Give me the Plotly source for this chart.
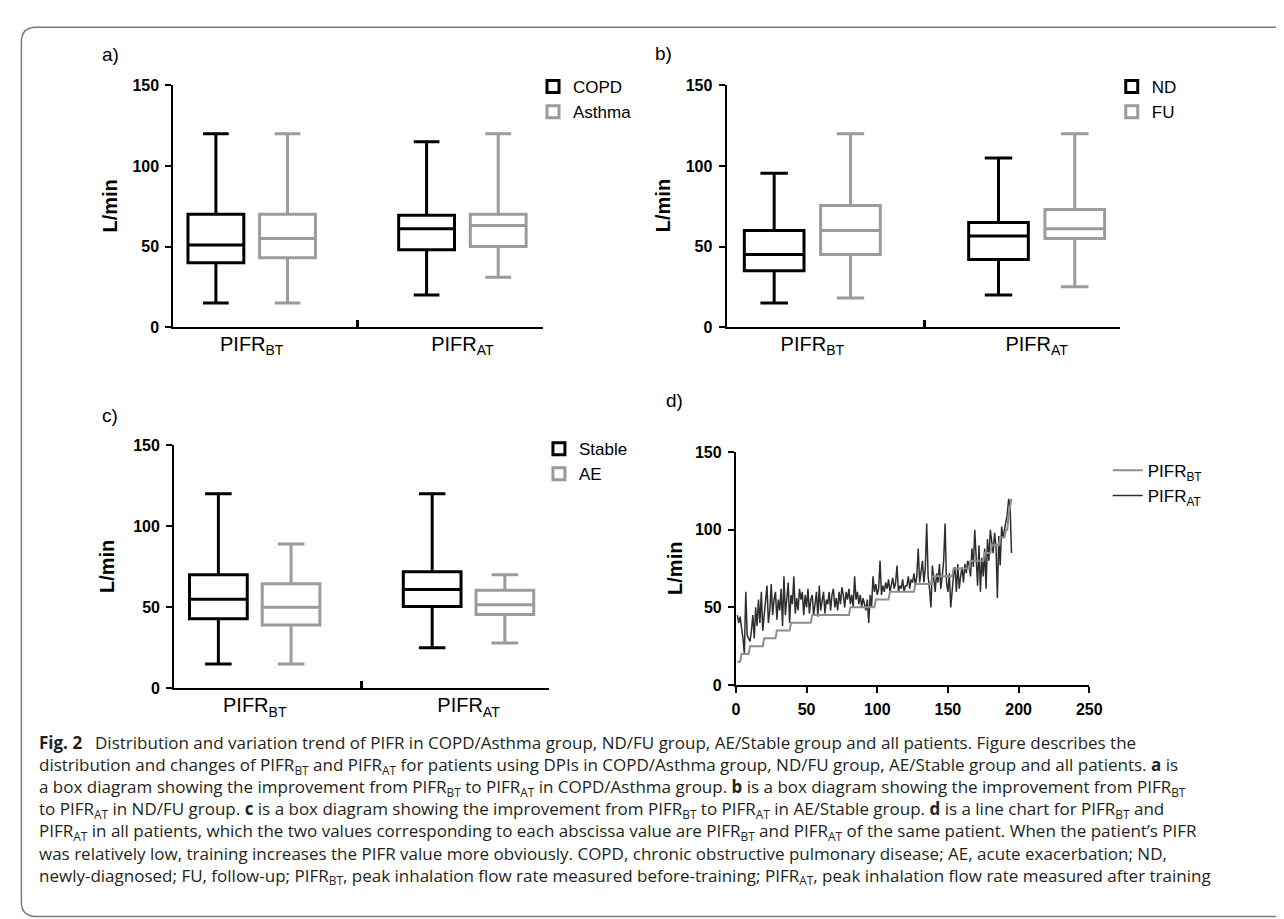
import plotly.graph_objects as go

W, H = 1284, 919

# ---------------- data ----------------
categories = ["PIFR<sub>BT</sub>", "PIFR<sub>AT</sub>"]

# five-number summaries: [min, Q1, median, Q3, max]
copd_bt = [15, 40, 51, 70, 120]
copd_at = [20, 48, 61, 69.5, 115]
asthma_bt = [15, 43, 55, 70, 120]
asthma_at = [31, 50, 63, 70, 120]

nd_bt = [15, 35, 45, 60, 95.5]
nd_at = [20, 42, 56.5, 65, 105]
fu_bt = [18, 45, 60, 75.5, 120]
fu_at = [25, 55, 61, 73, 120]

stable_bt = [15, 43, 55, 70, 120]
stable_at = [25, 50.5, 61, 72, 120]
ae_bt = [15, 39, 50, 64.5, 89]
ae_at = [28, 45.5, 51.5, 60.5, 70]

patients = list(range(1, 196))
pifr_bt = [
    15, 15, 15, 20, 20, 20, 20, 20, 20, 25,
    25, 25, 25, 25, 25, 25, 25, 25, 25, 30,
    30, 30, 30, 30, 30, 30, 30, 30, 35, 35,
    35, 35, 35, 35, 35, 35, 35, 35, 40, 40,
    40, 40, 40, 40, 40, 40, 40, 40, 40, 40,
    40, 40, 40, 45, 45, 45, 45, 45, 45, 45,
    45, 45, 45, 45, 45, 45, 45, 45, 45, 45,
    45, 45, 45, 45, 45, 45, 45, 45, 45, 45,
    50, 50, 50, 50, 50, 50, 50, 50, 50, 50,
    50, 50, 50, 50, 50, 50, 50, 50, 55, 55,
    55, 55, 55, 55, 55, 55, 55, 55, 60, 60,
    60, 60, 60, 60, 60, 60, 60, 60, 60, 60,
    60, 60, 60, 60, 60, 60, 65, 65, 65, 65,
    65, 65, 65, 65, 65, 65, 65, 65, 70, 70,
    70, 70, 70, 70, 70, 70, 70, 70, 70, 70,
    70, 70, 70, 75, 75, 75, 75, 75, 75, 75,
    75, 75, 75, 75, 75, 80, 80, 80, 80, 80,
    80, 80, 80, 80, 80, 85, 85, 85, 85, 85,
    90, 90, 90, 90, 90, 90, 95, 95, 95, 95,
    100, 100, 110, 115, 120,
]
pifr_at = [
    45, 40, 44, 38, 30, 20, 60, 32, 30, 28,
    35, 45, 30, 50, 38, 55, 40, 60, 35, 45,
    50, 64, 40, 48, 65, 45, 55, 60, 42, 55,
    48, 62, 38, 70, 45, 56, 66, 40, 58, 52,
    70, 46, 56, 48, 62, 55, 60, 45, 58, 50,
    62, 46, 55, 58, 45, 52, 60, 44, 64, 48,
    56, 60, 46, 55, 52, 60, 48, 58, 62, 50,
    56, 48, 60, 52, 63, 58, 50, 60, 55, 62,
    52, 58, 50, 70, 55, 60, 52, 58, 50, 56,
    52, 48, 55, 40, 58, 50, 70, 60, 65, 58,
    62, 80, 58, 64, 60, 66, 62, 68, 60, 64,
    69, 62, 66, 77, 60, 64, 62, 68, 60, 64,
    64, 70, 62, 68, 66, 72, 64, 70, 88, 66,
    72, 80, 66, 75, 104, 70, 62, 50, 77, 68,
    60, 72, 66, 78, 62, 70, 80, 104, 66, 60,
    72, 50, 64, 71, 76, 60, 78, 62, 70, 76,
    66, 78, 72, 80, 77, 70, 88, 76, 100, 85,
    64, 90, 60, 82, 70, 88, 62, 94, 80, 100,
    94, 85, 98, 90, 56, 96, 77, 102, 95, 100,
    104, 110, 120, 115, 85,
]

caption_lines = [
    "<b>Fig. 2</b>\u2002 Distribution and variation trend of PIFR in COPD/Asthma group, ND/FU group, AE/Stable group and all patients. Figure describes the",
    "distribution and changes of PIFR<sub>BT</sub> and PIFR<sub>AT</sub> for patients using DPIs in COPD/Asthma group, ND/FU group, AE/Stable group and all patients. <b>a</b> is",
    "a box diagram showing the improvement from PIFR<sub>BT</sub> to PIFR<sub>AT</sub> in COPD/Asthma group. <b>b</b> is a box diagram showing the improvement from PIFR<sub>BT</sub>",
    "to PIFR<sub>AT</sub> in ND/FU group. <b>c</b> is a box diagram showing the improvement from PIFR<sub>BT</sub> to PIFR<sub>AT</sub> in AE/Stable group. <b>d</b> is a line chart for PIFR<sub>BT</sub> and",
    "PIFR<sub>AT</sub> in all patients, which the two values corresponding to each abscissa value are PIFR<sub>BT</sub> and PIFR<sub>AT</sub> of the same patient. When the patient\u2019s PIFR",
    "was relatively low, training increases the PIFR value more obviously. COPD, chronic obstructive pulmonary disease; AE, acute exacerbation; ND,",
    "newly-diagnosed; FU, follow-up; PIFR<sub>BT</sub>, peak inhalation flow rate measured before-training; PIFR<sub>AT</sub>, peak inhalation flow rate measured after training",
]

# ---------------- helpers ----------------
def fx(px):
    return px / W


def fy(py):
    return 1 - py / H


BLACK = "#000000"
GREY = "#9b9b9b"
FONT = "Liberation Sans"


def box_trace(name, bt, at, color, offset, width, ax, legend):
    return go.Box(
        name=name,
        x=[0 + offset, 1 + offset],
        lowerfence=[bt[0], at[0]],
        q1=[bt[1], at[1]],
        median=[bt[2], at[2]],
        q3=[bt[3], at[3]],
        upperfence=[bt[4], at[4]],
        line=dict(color=color, width=3),
        fillcolor="rgba(255,255,255,0)",
        whiskerwidth=0.46,
        width=width,
        boxpoints=False,
        xaxis="x" + ax,
        yaxis="y" + ax,
        legend=legend,
    )


fig = go.Figure()
fig.add_trace(box_trace("COPD", copd_bt, copd_at, BLACK, -0.17, 0.265, "", "legend"))
fig.add_trace(box_trace("Asthma", asthma_bt, asthma_at, GREY, 0.17, 0.265, "", "legend"))
fig.add_trace(box_trace("ND", nd_bt, nd_at, BLACK, -0.17, 0.266, "2", "legend2"))
fig.add_trace(box_trace("FU", fu_bt, fu_at, GREY, 0.17, 0.266, "2", "legend2"))
fig.add_trace(box_trace("Stable", stable_bt, stable_at, BLACK, -0.17, 0.27, "3", "legend3"))
fig.add_trace(box_trace("AE", ae_bt, ae_at, GREY, 0.17, 0.27, "3", "legend3"))

fig.add_trace(go.Scatter(
    x=patients, y=pifr_at, mode="lines", name="PIFR<sub>AT</sub>",
    line=dict(color="#2e2e2e", width=1.5), xaxis="x4", yaxis="y4",
    legend="legend4", legendrank=2,
))
fig.add_trace(go.Scatter(
    x=patients, y=pifr_bt, mode="lines", name="PIFR<sub>BT</sub>",
    line=dict(color="#8e8e8e", width=2), xaxis="x4", yaxis="y4",
    legend="legend4", legendrank=1,
))

yaxis_common = dict(
    range=[0, 150], tickvals=[0, 50, 100, 150], ticks="outside", ticklen=6,
    tickwidth=2, tickcolor=BLACK, showline=True, linewidth=2, linecolor=BLACK,
    showgrid=False, zeroline=False, ticklabelstandoff=3,
    tickfont=dict(family=FONT, size=16, color=BLACK, weight="bold"),
)


def cat_xaxis(dom, rng, anchor):
    return dict(
        domain=dom, range=rng, anchor=anchor, tickmode="array", tickvals=[0, 1],
        ticktext=categories, ticks="", showline=True, linewidth=2, linecolor=BLACK,
        showgrid=False, zeroline=False, ticklabelstandoff=-2,
        tickfont=dict(family=FONT, size=20, color=BLACK),
        minor=dict(tickmode="array", tickvals=[0.5], ticks="inside", ticklen=7,
                   tickwidth=3, tickcolor=BLACK, showgrid=False),
    )


dom_ya = [fy(317), fy(70.7)]
dom_yc = [fy(685), fy(437.3)]
dom_yd = [fy(681.5), fy(444.5)]

legend_common = dict(
    bgcolor="rgba(0,0,0,0)", borderwidth=0, xanchor="left", yanchor="top",
    font=dict(family=FONT, size=17, color=BLACK), itemclick=False,
)

fig.update_layout(
    width=W, height=H, margin=dict(l=0, r=0, t=0, b=0),
    paper_bgcolor="white", plot_bgcolor="white", showlegend=True,
    xaxis=cat_xaxis([fx(163.5), fx(538)], [-0.372, 1.382], "y"),
    yaxis=dict(domain=dom_ya, anchor="x", **yaxis_common),
    xaxis2=cat_xaxis([fx(724.2), fx(1122.5)], [-0.382, 1.37], "y2"),
    yaxis2=dict(domain=dom_ya, anchor="x2", **yaxis_common),
    xaxis3=cat_xaxis([fx(164.3), fx(544.1)], [-0.377, 1.376], "y3"),
    yaxis3=dict(domain=dom_yc, anchor="x3", **yaxis_common),
    xaxis4=dict(
        domain=[fx(733.6), fx(1091.7)], range=[0, 250], tickvals=[0, 50, 100, 150, 200, 250],
        ticks="outside", ticklen=6, tickwidth=2, tickcolor=BLACK, showline=True,
        linewidth=2, linecolor=BLACK, showgrid=False, zeroline=False, ticklabelstandoff=3,
        tickfont=dict(family=FONT, size=16, color=BLACK, weight="bold"), anchor="y4",
    ),
    yaxis4=dict(domain=dom_yd, anchor="x4", **yaxis_common),
    legend=dict(x=fx(528), y=fy(54), **legend_common),
    legend2=dict(x=fx(1114.5), y=fy(54), **legend_common),
    legend3=dict(x=fx(534), y=fy(423), **legend_common),
    legend4=dict(x=fx(1110.4), y=fy(445), **legend_common),
)

# panel letters and y-axis titles
ann = []
for txt, x, y in [("a)", 99.4, 39), ("b)", 660.5, 38.3), ("c)", 99, 406.7), ("d)", 671.8, 391.7)]:
    ann.append(dict(text=txt, x=fx(x), y=fy(y), xref="paper", yref="paper",
                    showarrow=False, xanchor="center", yanchor="middle",
                    font=dict(family=FONT, size=19, color=BLACK)))
for x, y in [(99.4, 194), (660.5, 193), (95.7, 561), (671.2, 563)]:
    ann.append(dict(text="L/min", x=fx(x), y=fy(y), xref="paper", yref="paper",
                    showarrow=False, textangle=-90, xanchor="center", yanchor="middle",
                    font=dict(family=FONT, size=20, color=BLACK, weight="bold")))

# figure caption as one multi-line text block
ann.append(dict(text="<br>".join(caption_lines), x=fx(25), y=fy(808.5),
                xref="paper", yref="paper", showarrow=False, xanchor="left",
                yanchor="middle", align="left",
                font=dict(family="Open Sans", size=17, color="#231f20")))
fig.update_layout(annotations=ann)

# rounded frame around figure
L, T, B, R, r = 9.5, 11.5, 917.5, 1300, 15
path = (f"M {fx(R)},{fy(T)} L {fx(L + r)},{fy(T)} Q {fx(L)},{fy(T)} {fx(L)},{fy(T + r)} "
        f"L {fx(L)},{fy(B - r)} Q {fx(L)},{fy(B)} {fx(L + r)},{fy(B)} L {fx(R)},{fy(B)}")
fig.add_shape(type="path", path=path, xref="paper", yref="paper",
              line=dict(color="#7a7a7a", width=1.5), layer="below")

fig.write_html("out.html")
